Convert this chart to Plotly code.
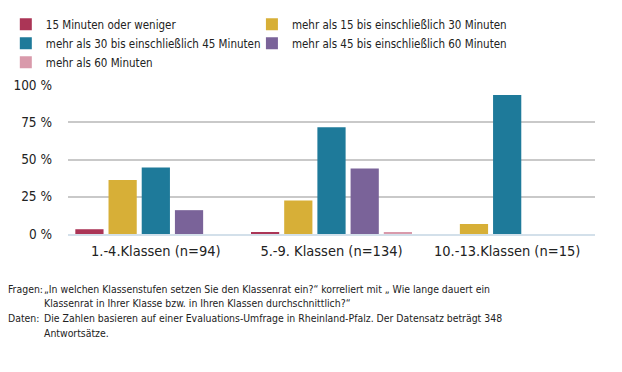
import plotly.graph_objects as go

categories = ["1.-4.Klassen (n=94)", "5.-9. Klassen (n=134)", "10.-13.Klassen (n=15)"]
series_names = [
    "15 Minuten oder weniger",
    "mehr als 15 bis einschließlich 30 Minuten",
    "mehr als 30 bis einschließlich 45 Minuten",
    "mehr als 45 bis einschließlich 60 Minuten",
    "mehr als 60 Minuten",
]
v_15 = [3.2, 0.75, 0]
v_30 = [36.2, 22.4, 6.7]
v_45 = [44.7, 71.6, 93.3]
v_60 = [16.0, 44.0, 0]
v_60plus = [0, 0.75, 0]
series_values = [v_15, v_30, v_45, v_60, v_60plus]
colors = ["#ab3556", "#d7af37", "#1e7a9a", "#7a6399", "#d99aab"]
legend_of_series = ["legend", "legend2", "legend", "legend2", "legend"]
tick_vals = [0, 25, 50, 75, 100]
tick_text = ["0 %", "25 %", "50 %", "75 %", "100 %"]

footer_labels = ["Fragen:", "Daten:"]
footer_lines = [
    "„In welchen Klassenstufen setzen Sie den Klassenrat ein?“ korreliert mit „ Wie lange dauert ein",
    "Klassenrat in Ihrer Klasse bzw. in Ihren Klassen durchschnittlich?“",
    "Die Zahlen basieren auf einer Evaluations-Umfrage in Rheinland-Pfalz. Der Datensatz beträgt 348",
    "Antwortsätze.",
]

FONT = "DejaVu Sans Condensed, Liberation Sans Narrow, sans-serif"
TXT = "#222222"

fig = go.Figure()
for name, vals, col, lg in zip(series_names, series_values, colors, legend_of_series):
    fig.add_trace(go.Bar(name=name, x=categories, y=vals, legend=lg,
                         marker=dict(color=col, line=dict(width=0))))

legend_common = dict(
    orientation="v", yanchor="top", y=1.505, xanchor="left",
    font=dict(family=FONT, size=11.5, color=TXT),
    tracegroupgap=0, itemwidth=30, bgcolor="rgba(0,0,0,0)",
)

# page body has an 8px margin: shrink figure and margins by 8px so plot area lands at the same pixels
fig.update_layout(
    width=614, height=364,
    margin=dict(l=60, r=27, t=77, b=138, autoexpand=False),
    paper_bgcolor="white", plot_bgcolor="white",
    font=dict(family=FONT, color=TXT, size=13),
    barmode="group", bargap=0.055, bargroupgap=0.15,
    showlegend=True,
    legend=dict(x=-0.118, **legend_common),
    legend2=dict(x=0.349, **legend_common),
    xaxis=dict(
        showline=True, linecolor="#d3e0ea", linewidth=1.5,
        ticks="", tickfont=dict(size=14.5), showgrid=False,
        ticklabelstandoff=3,
    ),
    yaxis=dict(
        range=[0, 100], tickvals=tick_vals, ticktext=tick_text,
        showgrid=True, gridcolor="#c9c9c9", gridwidth=1.5,
        zeroline=False, ticks="", ticklabelstandoff=15,
        tickfont=dict(size=13.5),
    ),
)

line_y = [-0.369, -0.463, -0.564, -0.664]
for lab, yy in zip(footer_labels, [line_y[0], line_y[2]]):
    fig.add_annotation(xref="paper", yref="paper", x=-0.118, y=yy, xanchor="left", yanchor="middle",
                       showarrow=False, text=lab, font=dict(family=FONT, size=10.4, color=TXT))
for line, yy in zip(footer_lines, line_y):
    fig.add_annotation(xref="paper", yref="paper", x=-0.049, y=yy, xanchor="left", yanchor="middle",
                       showarrow=False, text=line, font=dict(family=FONT, size=10.4, color=TXT))

fig.write_html("out.html")
